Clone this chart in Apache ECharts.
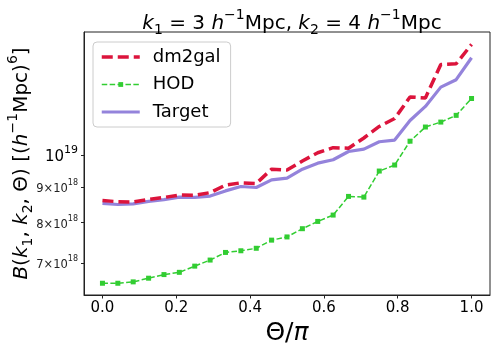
<!DOCTYPE html>
<html>
<head>
<meta charset="utf-8">
<script src="https://cdn.jsdelivr.net/npm/echarts@6/dist/echarts.min.js"></script>
<style>
  html, body { margin: 0; padding: 0; background: #fff; }
  #chart { width: 496px; height: 352px; }
</style>
</head>
<body>
<div id="chart"></div>
<script>
// Theta / pi sample points
var theta = [0, 0.0417, 0.0833, 0.125, 0.1667, 0.2083, 0.25, 0.2917, 0.3333, 0.375,
    0.4167, 0.4583, 0.5, 0.5417, 0.5833, 0.625, 0.6667, 0.7083, 0.75, 0.7917,
    0.8333, 0.875, 0.9167, 0.9583, 1];

// bispectrum values, in units of 1e18 (h^-1 Mpc)^6
var dm2gal = [8.60, 8.57, 8.56, 8.63, 8.69, 8.76, 8.75, 8.83, 9.05, 9.12,
    9.10, 9.54, 9.51, 9.80, 10.07, 10.24, 10.22, 10.57, 10.98, 11.27,
    12.10, 12.06, 13.47, 13.50, 14.39];
var hod = [6.55, 6.55, 6.58, 6.66, 6.74, 6.79, 6.93, 7.07, 7.25, 7.29,
    7.35, 7.55, 7.63, 7.84, 8.03, 8.20, 8.72, 8.70, 9.48, 9.67,
    10.46, 10.96, 11.14, 11.39, 12.04];
var target = [8.52, 8.49, 8.51, 8.58, 8.63, 8.70, 8.69, 8.73, 8.88, 9.01,
    8.98, 9.21, 9.26, 9.54, 9.73, 9.84, 10.11, 10.19, 10.44, 10.50,
    11.20, 11.73, 12.50, 12.81, 13.77];

var xTicks = [0, 0.2, 0.4, 0.6, 0.8, 1.0];
var yTicks = [7, 8, 9, 10]; // x 1e18

var FONT = "DejaVu Sans";

// y axis is drawn in log10 space
function toLog(arr) {
    return arr.map(function (v, i) {
        return [theta[i], Math.log10(v * 1e18)];
    });
}

var yTickVals = yTicks.map(function (t) { return Math.log10(t * 1e18); });

var chart = echarts.init(document.getElementById("chart"), null, { renderer: "canvas" });

var hidden = { opacity: 0 };

var option = {
    animation: false,
    backgroundColor: "#ffffff",
    title: {
        left: 287,
        top: 3,
        textAlign: "center",
        text: "{i|k}{sub|1}{n| = 3 }{i|h}{sup|\u22121}{n|Mpc, }{i|k}{sub|2}{n| = 4 }{i|h}{sup|\u22121}{n|Mpc}",
        textStyle: {
            fontWeight: "normal",
            rich: {
                n: { fontFamily: FONT, fontSize: 20, fontWeight: "normal", color: "#000", lineHeight: 26, verticalAlign: "bottom" },
                i: { fontFamily: FONT, fontSize: 20, fontWeight: "normal", fontStyle: "italic", color: "#000", lineHeight: 26, verticalAlign: "bottom" },
                sub: { fontFamily: FONT, fontSize: 14, fontWeight: "normal", color: "#000", verticalAlign: "bottom", padding: [0, 0, -3, 0] },
                sup: { fontFamily: FONT, fontSize: 14, fontWeight: "normal", color: "#000", verticalAlign: "top" }
            }
        }
    },
    legend: {
        orient: "vertical",
        left: 93,
        top: 42,
        padding: [6, 10, 6, 7],
        itemGap: 9.5,
        itemWidth: 38,
        itemHeight: 6,
        borderColor: "#cccccc",
        borderWidth: 1,
        borderRadius: 4,
        backgroundColor: "rgba(255,255,255,0.8)",
        textStyle: { fontFamily: FONT, fontSize: 18, color: "#000", padding: [0, 0, 0, 8], lineHeight: 18 },
        data: [
            { name: "dm2gal", itemStyle: hidden, lineStyle: { width: 3.5 } },
            { name: "HOD", lineStyle: { width: 1.5 } },
            { name: "Target", itemStyle: hidden, lineStyle: { width: 3.2 } }
        ]
    },
    grid: {
        left: 84,
        right: 6,
        top: 32,
        bottom: 57,
        outerBoundsMode: "none",
        containLabel: false,
        show: true,
        borderColor: "#222",
        borderWidth: 1,
        backgroundColor: "transparent"
    },
    xAxis: {
        type: "value",
        min: -0.05,
        max: 1.05,
        name: "{n|\u0398/}{i|\u03c0}",
        nameLocation: "middle",
        nameGap: 14,
        nameTextStyle: {
            rich: {
                n: { fontFamily: FONT, fontSize: 25, color: "#000" },
                i: { fontFamily: FONT, fontSize: 25, fontStyle: "italic", color: "#000" }
            }
        },
        axisLine: { show: true, onZero: false, lineStyle: { color: "#222", width: 1 } },
        axisTick: { show: true, length: 3.5, customValues: xTicks, lineStyle: { color: "#222" } },
        axisLabel: {
            customValues: xTicks,
            fontFamily: FONT,
            fontSize: 15,
            color: "#000",
            margin: 6,
            formatter: function (v) { return v.toFixed(1); }
        },
        splitLine: { show: false }
    },
    yAxis: {
        type: "value",
        min: 18.79943,
        max: 19.1758,
        name: "{i|B}{n|(}{i|k}{sub|1}{n|, }{i|k}{sub|2}{n|, \u0398) [(}{i|h}{sup|\u22121}{n|Mpc)}{sup|6}{n|]}",
        nameLocation: "middle",
        nameRotate: 90,
        nameGap: 52,
        nameMoveOverlap: false,
        nameTextStyle: {
            rich: {
                n: { fontFamily: FONT, fontSize: 20, color: "#000", lineHeight: 26, verticalAlign: "bottom" },
                i: { fontFamily: FONT, fontSize: 20, fontStyle: "italic", color: "#000", lineHeight: 26, verticalAlign: "bottom" },
                sub: { fontFamily: FONT, fontSize: 14, color: "#000", verticalAlign: "bottom", padding: [0, 0, -3, 0] },
                sup: { fontFamily: FONT, fontSize: 14, color: "#000", verticalAlign: "top" }
            }
        },
        axisLine: { show: true, onZero: false, lineStyle: { color: "#222", width: 1 } },
        axisTick: { show: true, length: 3, customValues: yTickVals, lineStyle: { color: "#222" } },
        axisLabel: {
            customValues: yTickVals,
            margin: 6,
            formatter: function (v) {
                if (Math.abs(v - 19) < 1e-6) {
                    return "{b|10}{bs|19}";
                }
                var m = Math.round(Math.pow(10, v - 18));
                return "{s|" + m + "\u00d710}{ss|18}";
            },
            rich: {
                b: { fontFamily: FONT, fontSize: 15, color: "#000", lineHeight: 20, verticalAlign: "bottom" },
                bs: { fontFamily: FONT, fontSize: 11, color: "#000", verticalAlign: "top" },
                s: { fontFamily: FONT, fontSize: 11.5, color: "#222", lineHeight: 16, verticalAlign: "bottom" },
                ss: { fontFamily: FONT, fontSize: 8, color: "#222", verticalAlign: "top" }
            }
        },
        splitLine: { show: false }
    },
    series: [
        {
            name: "dm2gal",
            type: "line",
            data: toLog(dm2gal),
            symbol: "none",
            z: 4,
            color: "#dc143c",
            lineStyle: { color: "#dc143c", width: 3.5, type: [11, 5] }
        },
        {
            name: "HOD",
            type: "line",
            data: toLog(hod),
            symbol: "rect",
            symbolSize: 5,
            z: 3,
            color: "#32cd32",
            itemStyle: { color: "#32cd32" },
            lineStyle: { color: "#32cd32", width: 1.5, type: [5.5, 2.4] }
        },
        {
            name: "Target",
            type: "line",
            data: toLog(target),
            symbol: "none",
            z: 2,
            color: "#9483db",
            lineStyle: { color: "#9483db", width: 3.2 }
        }
    ]
};

chart.setOption(option);
</script>
</body>
</html>
